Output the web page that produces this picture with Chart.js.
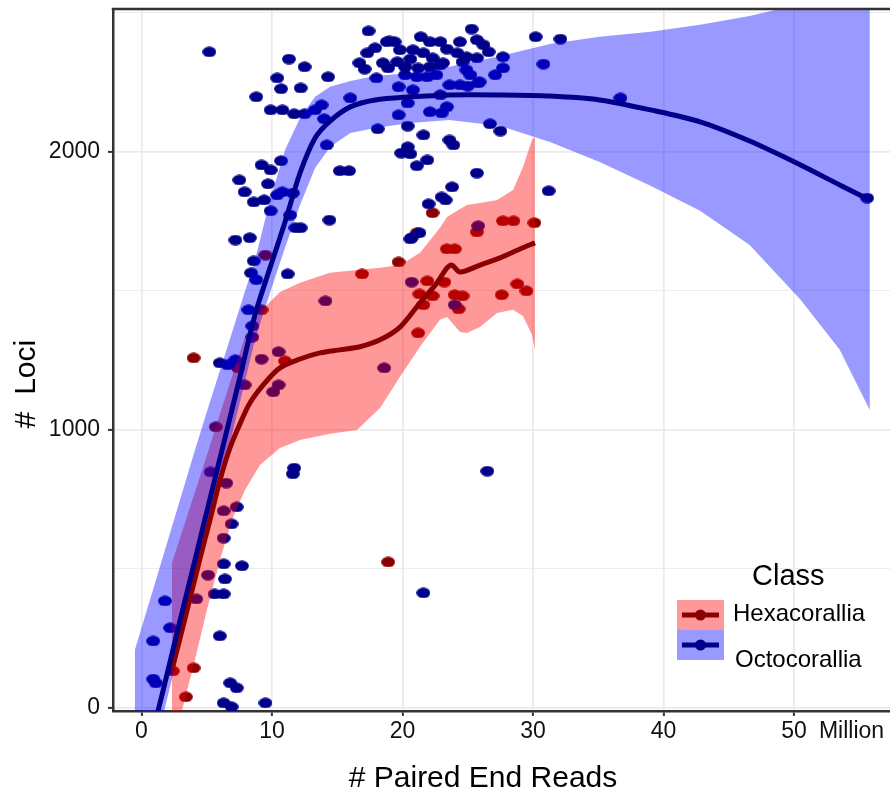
<!DOCTYPE html>
<html><head><meta charset="utf-8">
<script src="https://cdn.jsdelivr.net/npm/chart.js@4"></script>
<style>html,body{margin:0;padding:0;overflow:hidden;background:#fff}
#wrap{position:absolute;left:0;top:0;width:920px;height:792px}</style>
</head><body><div id="wrap"><canvas id="c" width="920" height="792"></canvas></div>
<script>
// ---------- DATA ----------
const xTitle = '# Paired End Reads';
const yTitle = '#  Loci';
const legendTitle = 'Class';
const classNames = ['Hexacorallia', 'Octocorallia'];
const xTickValues = [0, 10, 20, 30, 40, 50];
const xUnitLabel = 'Million';
const xUnitPos = 54.4;
const yTickValues = [0, 500, 1000, 1500, 2000, 2500];

// Octocorallia samples
const octoX = [5.2,17.4,11.3,12.5,10.4,10.7,12.2,14.3,8.8,9.9,10.8,11.7,12.5,13.3,13.8,14.0,16.0,18.0,19.7,18.1,19.7,20.4,14.2,19.9,20.4,9.2,9.9,10.7,7.5,9.7,7.9,8.6,9.4,9.9,10.4,10.8,11.6,11.4,11.8,12.2,14.4,15.2,15.9,7.2,8.3,20.6,17.3,17.9,18.8,19.4,19.8,16.7,17.1,18.5,18.9,19.6,20.2,20.2,25.3,21.4,19.0,22.1,22.9,24.4,25.7,26.2,26.6,20.8,21.6,23.4,22.3,23.1,20.6,24.2,24.9,25.7,24.6,21.2,22.1,22.9,21.1,21.9,22.6,24.9,25.2,25.9,27.7,27.7,27.1,30.2,32.1,30.8,20.8,23.6,24.4,25.0,25.8,22.9,20.4,22.1,23.0,23.4,21.6,26.7,27.5,23.6,23.9,20.6,21.1,21.9,25.7,23.8,23.0,23.3,22.0,21.3,20.7,36.7,55.6,31.2,25.8,20.7,24.0,18.6,26.5,8.6,8.4,8.8,11.2,14.1,8.2,8.5,8.5,10.5,9.2,6.0,6.6,7.2,7.9,10.5,10.1,11.7,11.6,5.3,6.5,7.3,6.3,6.9,6.3,6.3,7.7,5.1,6.4,5.6,6.3,1.8,4.2,2.2,6.0,0.9,0.9,1.1,6.8,7.3,6.3,6.9,9.5,21.6];
const octoY = [2360,2435,2334,2306,2266,2227,2230,2270,2198,2151,2151,2137,2137,2151,2169,2119,2194,2266,2234,2083,2133,2093,2025,1996,2018,1953,1935,1968,1899,1885,1856,1820,1827,1788,1845,1856,1852,1773,1727,1727,1755,1932,1932,1683,1691,1687,2356,2374,2396,2396,2367,2320,2298,2320,2302,2324,2306,2277,2442,2414,2399,2396,2396,2396,2403,2385,2360,2367,2356,2370,2338,2320,2334,2356,2342,2338,2324,2302,2306,2313,2270,2270,2277,2295,2277,2252,2342,2302,2277,2414,2406,2316,2223,2241,2241,2237,2248,2205,2176,2144,2140,2162,2061,2101,2075,2043,2025,1993,1950,1971,1924,1874,1838,1827,1813,1709,1691,2194,1834,1860,1734,1532,1450,1223,852,1608,1565,1540,1561,1464,1432,1374,1334,1281,1255,1241,1234,1252,1162,1162,1137,863,842,849,809,723,709,662,611,518,511,478,464,410,410,385,392,288,259,241,104,90,90,72,18,4,18,414];

// Hexacorallia samples
const hexaX = [4.0,7.4,11.0,16.9,19.7,22.3,21.1,25.7,27.7,28.5,30.1,23.4,24.0,21.9,23.2,21.3,22.3,21.6,24.0,24.6,24.3,21.2,27.6,28.8,29.5,9.5,5.7,9.2,18.9,2.4,4.0,3.4];
const hexaY = [1259,1223,1248,1561,1604,1781,1709,1712,1752,1752,1745,1651,1651,1536,1532,1489,1482,1450,1486,1482,1435,1349,1486,1525,1500,1629,1011,1432,525,133,144,40];

// Octocorallia smooth fit and its confidence band
const octoFitX  = [-0.5,0.65,1.8,2.95,4.1,5.25,6.4,7.55,8.7,9.85,11.0,12.15,13.3,14.45,16.0,17.9,20.6,23.6,27.5,31.3,35.1,39.0,42.8,46.6,50.5,53.5,55.8];
const octoFitY  = [-349,-129,90,313,532,752,971,1191,1414,1583,1748,1924,2050,2111,2162,2187,2198,2205,2205,2201,2187,2151,2108,2039,1953,1881,1827];
const octoFitHi = [209,388,568,748,928,1101,1270,1442,1611,1827,2007,2122,2198,2234,2255,2273,2284,2306,2345,2388,2414,2432,2457,2489,2532,2576,2619];
const octoFitLo = [-439,-219,0,223,442,662,881,1101,1324,1493,1655,1809,1942,2018,2068,2086,2104,2115,2093,2036,1964,1878,1788,1665,1468,1288,1072];

// Hexacorallia smooth fit
const hexaFitX = [2.34,3.33,4.48,5.25,6.02,6.78,7.55,8.31,9.46,10.61,12.15,13.68,15.21,16.74,18.28,19.81,21.34,22.64,23.41,23.79,24.41,25.94,27.47,29.0,30.15];
const hexaFitY = [137,320,536,676,820,935,1022,1097,1169,1223,1255,1277,1288,1299,1324,1370,1457,1529,1583,1593,1568,1593,1619,1651,1673];
// Hexacorallia confidence band
const hexaBandX  = [2.34,3.10,4.10,5.02,6.02,6.93,7.93,9.08,10.61,12.15,14.44,16.51,18.28,19.81,21.34,22.87,23.41,24.41,24.94,25.94,27.24,28.47,29.23,29.92,30.15];
const hexaBandHi = [522,633,777,910,1058,1191,1334,1424,1496,1529,1565,1575,1583,1593,1637,1727,1766,1795,1809,1816,1827,1863,1946,2043,2054];
const hexaBandLo = [-151,-11,173,353,532,676,784,874,935,964,986,1000,1079,1191,1299,1396,1406,1352,1349,1370,1421,1432,1410,1342,1288];

// ---------- STYLE ----------
const FONT = "'Liberation Sans', Arial, Helvetica, sans-serif";
const OCTO = '#00008B', HEXA = '#8B0000';
const OCTO_FILL = 'rgba(0,0,255,0.4)', HEXA_FILL = 'rgba(255,0,0,0.4)';

function ellipse(color) {
  const c = document.createElement('canvas');
  c.width = 14; c.height = 11;
  const g = c.getContext('2d');
  g.fillStyle = color;
  g.beginPath(); g.ellipse(7, 5.5, 6.9, 5.2, 0, 0, Math.PI * 2); g.fill();
  return c;
}
const pts = (xs, ys) => xs.map((x, i) => ({x, y: ys[i]}));
const poly = (xs, hi, lo) => pts(xs, hi).concat(pts(xs, lo).reverse());

const decor = {
  id: 'decor',
  afterDraw(chart) {
    const ctx = chart.ctx, a = chart.chartArea;
    ctx.save();
    ctx.strokeStyle = '#333'; ctx.lineWidth = 2.5;
    ctx.beginPath(); ctx.moveTo(a.left - 1.25, a.top); ctx.lineTo(a.right, a.top); ctx.stroke();
    ctx.fillStyle = '#000';
    ctx.font = '30px ' + FONT;
    ctx.textAlign = 'center'; ctx.textBaseline = 'alphabetic';
    ctx.fillText(xTitle, 483, 787);
    ctx.save();
    ctx.translate(35, 384); ctx.rotate(-Math.PI / 2);
    ctx.fillText(yTitle, 0, 0);
    ctx.restore();
    // legend
    ctx.textAlign = 'left';
    ctx.font = '29px ' + FONT;
    ctx.fillText(legendTitle, 752, 585);
    const keys = [[HEXA_FILL, HEXA, 600], [OCTO_FILL, OCTO, 630]];
    keys.forEach(([f, c, y], i) => {
      ctx.fillStyle = f; ctx.fillRect(677, y, 47, 30);
      ctx.strokeStyle = c; ctx.lineWidth = 5;
      ctx.beginPath(); ctx.moveTo(682, y + 15); ctx.lineTo(719, y + 15); ctx.stroke();
      ctx.fillStyle = c; ctx.beginPath(); ctx.arc(700.5, y + 15, 5.5, 0, Math.PI * 2); ctx.fill();
      ctx.fillStyle = '#000'; ctx.font = '24px ' + FONT;
      ctx.fillText(classNames[i], i === 0 ? 733 : 735, i === 0 ? 621 : 667);
    });
    ctx.restore();
  }
};

new Chart(document.getElementById('c'), {
  type: 'line',
  data: {
    datasets: [
      {label: classNames[0] + ' samples', data: pts(hexaX, hexaY), showLine: false,
       pointStyle: ellipse(HEXA), pointRadius: 5, pointBorderWidth: 0, order: 10},
      {label: classNames[1] + ' samples', data: pts(octoX, octoY), showLine: false,
       pointStyle: ellipse(OCTO), pointRadius: 5, pointBorderWidth: 0, order: 9},
      {label: classNames[0] + ' band', data: poly(hexaBandX, hexaBandHi, hexaBandLo), fill: 'shape',
       backgroundColor: HEXA_FILL, borderColor: 'rgba(0,0,0,0)', borderWidth: 0, pointRadius: 0, tension: 0, order: 5},
      {label: classNames[1] + ' band', data: poly(octoFitX, octoFitHi, octoFitLo), fill: 'shape',
       backgroundColor: OCTO_FILL, borderColor: 'rgba(0,0,0,0)', borderWidth: 0, pointRadius: 0, tension: 0, order: 4},
      {label: classNames[0] + ' fit', data: pts(hexaFitX, hexaFitY), borderColor: HEXA, borderWidth: 5,
       pointRadius: 0, tension: 0.3, fill: false, order: 2},
      {label: classNames[1] + ' fit', data: pts(octoFitX, octoFitY), borderColor: OCTO, borderWidth: 5,
       pointRadius: 0, tension: 0.3, fill: false, order: 1}
    ]
  },
  options: {
    responsive: false, animation: false, events: [], devicePixelRatio: 1,
    layout: {padding: {top: 9, right: 15, left: 0, bottom: 0}, autoPadding: false},
    plugins: {legend: {display: false}, tooltip: {enabled: false}},
    scales: {
      x: {
        type: 'linear', min: -2.18, max: 58.5,
        afterBuildTicks: s => { s.ticks = xTickValues.map(v => ({value: v})).concat([{value: xUnitPos}]); },
        afterFit: s => { s.height = 81; s.paddingLeft = 0; s.paddingRight = 0; },
        ticks: {autoSkip: false, maxRotation: 0, padding: 2, color: '#111',
                font: {family: FONT, size: 23},
                callback: v => v === xUnitPos ? xUnitLabel : String(v)},
        grid: {color: c => (c.tick && c.tick.value === xUnitPos) ? 'rgba(0,0,0,0)' : '#ebebeb',
               tickColor: c => (c.tick && c.tick.value === xUnitPos) ? 'rgba(0,0,0,0)' : '#333',
               lineWidth: 1.8, tickLength: 5, tickWidth: 2},
        border: {color: '#333', width: 2.5}
      },
      y: {
        type: 'linear', min: -11, max: 2514,
        afterBuildTicks: s => { s.ticks = yTickValues.map(v => ({value: v})); },
        afterFit: s => { s.width = 113; s.paddingTop = 0; s.paddingBottom = 0; },
        ticks: {padding: 8, color: '#111', font: {family: FONT, size: 23},
                callback: v => v % 1000 === 0 ? String(v) : ''},
        grid: {color: '#ebebeb',
               lineWidth: c => (c.tick && c.tick.value % 1000 === 0) ? 1.8 : 0.9,
               tickColor: c => (c.tick && c.tick.value % 1000 === 0) ? '#333' : 'rgba(0,0,0,0)',
               tickLength: 5, tickWidth: 2},
        border: {color: '#333', width: 2.5}
      }
    }
  },
  plugins: [decor]
});
</script></body></html>
